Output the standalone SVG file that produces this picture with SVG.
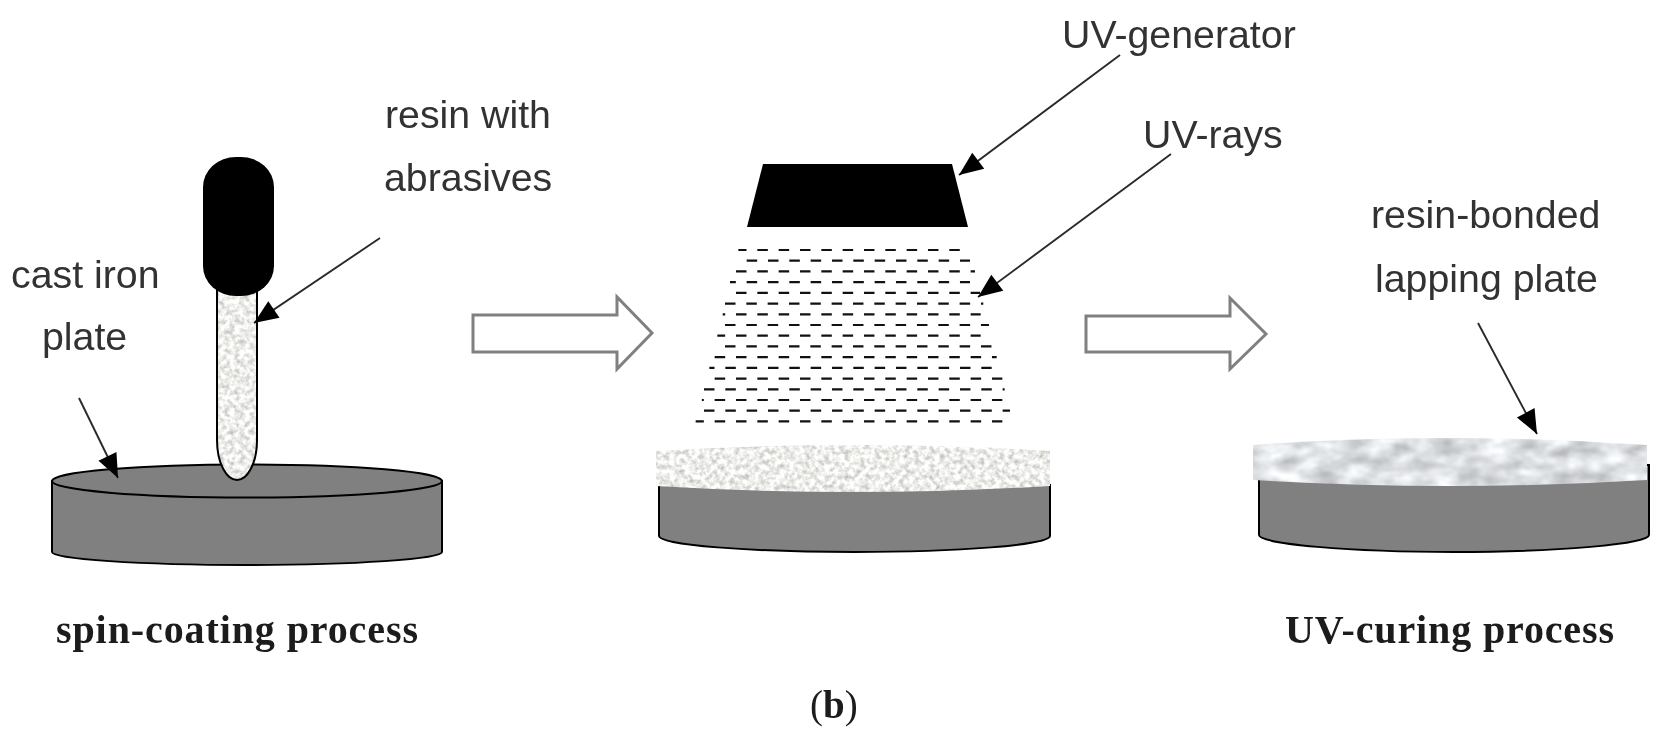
<svg xmlns="http://www.w3.org/2000/svg" width="1662" height="743" viewBox="0 0 1662 743">
<style>
text{font-family:"Liberation Sans",Arial,sans-serif;font-size:39.3px;fill:#333;filter:url(#soft)}
text.cap{font-family:"Liberation Serif","Times New Roman",serif;font-weight:bold;font-size:40px;fill:#1a1a1a}
.disc{fill:#808080;stroke:#000;stroke-width:2}
.leader{stroke:#2a2a2a;stroke-width:1.9;fill:none;marker-end:url(#head)}
.open{fill:#fff;stroke:#808080;stroke-width:3}
.a,.b{stroke:#111;stroke-width:2.2;stroke-dasharray:10.5 10.83;fill:none}
</style>
<defs>
<filter id="soft" x="-5%" y="-20%" width="110%" height="140%"><feGaussianBlur stdDeviation="0.45"/></filter>
<filter id="grain" x="0" y="0" width="100%" height="100%" color-interpolation-filters="sRGB">
<feTurbulence type="fractalNoise" baseFrequency="0.2" numOctaves="3" seed="7"/>
<feColorMatrix type="matrix" values="0.5 0 0 0 0.68  0.5 0 0 0 0.68  0.5 0 0 0 0.67  0 0 0 0 1"/>
<feGaussianBlur stdDeviation="0.7"/>
</filter>
<filter id="marble" x="0" y="0" width="100%" height="100%" color-interpolation-filters="sRGB">
<feTurbulence type="fractalNoise" baseFrequency="0.035 0.07" numOctaves="4" seed="11"/>
<feColorMatrix type="matrix" values="0.5 0 0 0 0.62  0.5 0 0 0 0.63  0.5 0 0 0 0.64  0 0 0 0 1"/>
<feGaussianBlur stdDeviation="1.2"/>
</filter>
<clipPath id="stemClip"><path d="M217 285V440C217 464 227 480 237 480C247 480 257 464 257 440V285Z"/></clipPath>
<clipPath id="midClip"><path d="M656 451Q853 439 1050 451V486Q853 498 656 486Z"/></clipPath>
<clipPath id="rightClip"><path d="M1253 445Q1450 431 1647 445V480Q1450 492 1253 480Z"/></clipPath>
<marker id="head" markerUnits="userSpaceOnUse" markerWidth="28" markerHeight="24" viewBox="0 0 28 24" refX="26" refY="12" orient="auto"><path d="M2 2L26 12L2 22Z" fill="#000"/></marker>
</defs>
<rect width="1662" height="743" fill="#fff"/>
<g id="plate-left">
<path class="disc" d="M52 481V552C52 559 140 565 247 565C354 565 442 559 442 552V481Z"/>
<ellipse class="disc" cx="247" cy="481" rx="195" ry="16.5"/>
</g>
<g id="dispenser">
<g clip-path="url(#stemClip)"><rect x="215" y="283" width="44" height="199" filter="url(#grain)"/></g>
<path d="M217 285V440C217 464 227 480 237 480C247 480 257 464 257 440V285" fill="none" stroke="#000" stroke-width="2"/>
<rect x="203" y="157" width="71" height="139" rx="33" ry="30" fill="#000"/>
</g>
<g id="arrow-1"><path class="open" d="M473 315H617V297L652 333L617 369V352H473Z"/></g>
<g id="uv-generator"><path d="M763 164H952L968 227H747Z" fill="#000"/></g>
<g id="uv-rays">
<line class="a" x1="738.33" y1="250" x2="960" y2="250" stroke-dashoffset="2.33"/>
<line class="b" x1="746.67" y1="260.7" x2="970" y2="260.7"/>
<line class="a" x1="736" y1="271.4" x2="975" y2="271.4"/>
<line class="b" x1="730" y1="282.1" x2="970" y2="282.1" stroke-dashoffset="4.67"/>
<line class="a" x1="736" y1="292.9" x2="980" y2="292.9"/>
<line class="b" x1="725" y1="303.6" x2="983.3" y2="303.6"/>
<line class="a" x1="722.67" y1="314.3" x2="980.67" y2="314.3" stroke-dashoffset="8"/>
<line class="b" x1="725" y1="325" x2="989" y2="325"/>
<line class="a" x1="717.33" y1="335.7" x2="980.67" y2="335.7" stroke-dashoffset="2.67"/>
<line class="b" x1="725" y1="346.4" x2="991.67" y2="346.4"/>
<line class="a" x1="714.67" y1="357.1" x2="996.67" y2="357.1"/>
<line class="b" x1="709.33" y1="367.9" x2="991.67" y2="367.9" stroke-dashoffset="5.33"/>
<line class="a" x1="714.67" y1="378.6" x2="1002.33" y2="378.6"/>
<line class="b" x1="704" y1="389.3" x2="1004.67" y2="389.3"/>
<line class="a" x1="701.83" y1="400" x2="1002.33" y2="400" stroke-dashoffset="8.5"/>
<line class="b" x1="704" y1="410.7" x2="1010" y2="410.7"/>
<line class="a" x1="695.67" y1="421.4" x2="1002.33" y2="421.4" stroke-dashoffset="2.33"/>
</g>
<g id="plate-mid">
<path class="disc" d="M659 485V536C659 545 750 552 854 552C958 552 1050 545 1050 536V485Z"/>
<g clip-path="url(#midClip)"><rect x="654" y="436" width="398" height="64" filter="url(#grain)"/></g>
</g>
<g id="arrow-2"><path class="open" d="M1086 316H1230V298L1266 334L1230 369V352H1086Z"/></g>
<g id="plate-right">
<path class="disc" d="M1259 465V535C1259 544 1350 552 1454 552C1558 552 1649 544 1649 535V465Z"/>
<g clip-path="url(#rightClip)"><rect x="1251" y="430" width="398" height="64" filter="url(#marble)"/></g>
</g>
<g id="connectors">
<path class="leader" d="M380 238L254 323"/>
<path class="leader" d="M79 398L118 478"/>
<path class="leader" d="M1120 55L959 175"/>
<path class="leader" d="M1171 154L978 297"/>
<path class="leader" d="M1478 323L1537 434"/>
</g>
<g id="labels">
<text x="385" y="128">resin with</text>
<text x="384" y="191">abrasives</text>
<text x="11" y="288">cast iron</text>
<text x="42" y="350">plate</text>
<text x="1062" y="48">UV-generator</text>
<text x="1143" y="148">UV-rays</text>
<text x="1371" y="228">resin-bonded</text>
<text x="1375" y="292">lapping plate</text>
<text class="cap" x="56" y="643" textLength="362">spin-coating process</text>
<text class="cap" x="1285" y="643" textLength="329">UV-curing process</text>
<text class="cap" x="810" y="718" style="font-weight:normal;font-size:39px">(<tspan font-weight="bold">b</tspan>)</text>
</g>
</svg>
